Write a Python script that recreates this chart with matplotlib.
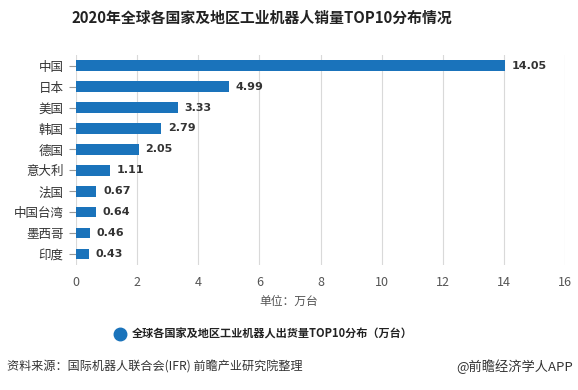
import matplotlib
matplotlib.use("Agg")
import matplotlib.pyplot as plt
from matplotlib.lines import Line2D

plt.rcParams["font.family"] = ["Noto Sans CJK SC", "DejaVu Sans"]

# 数据（自上而下）
regions = ["中国", "日本", "美国", "韩国", "德国", "意大利", "法国", "中国台湾", "墨西哥", "印度"]
sales = [14.05, 4.99, 3.33, 2.79, 2.05, 1.11, 0.67, 0.64, 0.46, 0.43]
x_ticks = [0, 2, 4, 6, 8, 10, 12, 14, 16]

bar_color = "#1a73bb"
text_color = "#333333"

fig = plt.figure(figsize=(5.78, 3.9), dpi=100)
ax = fig.add_axes([0.1315, 0.3215, 0.846, 0.537])

y = list(range(len(regions)))
ax.barh(y, sales, height=0.5, color=bar_color, zorder=3)
ax.set_ylim(len(regions) - 0.5, -0.5)
ax.set_xlim(0, 16)
ax.set_yticks(y)
ax.set_yticklabels(regions, fontsize=9, color=text_color)
ax.set_xticks(x_ticks)
ax.set_xticklabels([str(t) for t in x_ticks], fontsize=9, color="#555555")

# 数值标签
for yi, v in zip(y, sales):
    ax.text(v + 0.22, yi, f"{v:.2f}", va="center", ha="left", fontsize=8,
            fontweight="bold", color=text_color, family=["DejaVu Sans"])

ax.grid(axis="x", color="#d9d9d9", lw=0.8, zorder=0)
for s in ax.spines.values():
    s.set_visible(False)
ax.tick_params(axis="y", length=5, color="#999999", pad=4, width=0.8)
ax.tick_params(axis="x", length=0, pad=8)

fig.text(0.453, 0.955, "2020年全球各国家及地区工业机器人销量TOP10分布情况", ha="center",
         va="center", fontsize=10.7, fontweight="bold", color="#222222")
fig.text(0.5, 0.228, "单位：万台", ha="center", va="center", fontsize=8.5, color="#555555")

# 图例
legend_y = 1 - 334 / 390
fig.add_artist(Line2D([120 / 578], [legend_y], marker="o", markersize=9, color=bar_color,
                      linestyle="none", transform=fig.transFigure))
fig.text(132 / 578, legend_y, "全球各国家及地区工业机器人出货量TOP10分布（万台）", ha="left",
         va="center", fontsize=8, fontweight="bold", color="#222222")

fig.text(0.012, 1 - 367 / 390, "资料来源：国际机器人联合会(IFR) 前瞻产业研究院整理", ha="left",
         va="center", fontsize=8.7, color="#333333")
fig.text(0.992, 1 - 367 / 390, "@前瞻经济学人APP", ha="right", va="center", fontsize=9.5,
         color="#333333")

fig.savefig("out.png", dpi=100)
